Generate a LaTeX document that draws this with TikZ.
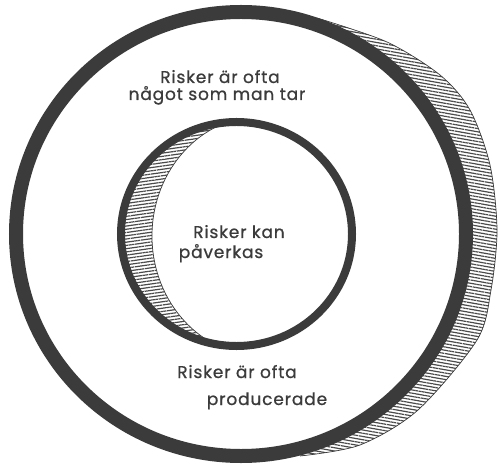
\documentclass[tikz,border=0pt]{standalone}
\usepackage{fontspec}
\setmainfont{Poppins}[LetterSpace=5, FakeBold=0.8]
\usetikzlibrary{patterns.meta}
\definecolor{ink}{HTML}{3B3B3B}
\definecolor{hatch}{HTML}{4A4A4A}

\begin{document}
\begin{tikzpicture}[
    x=1bp, y=-1bp,
    ring/.style={draw=ink, line width=#1},
    shadeband/.style={pattern={Lines[angle=#1, distance=3.2bp, line width=1.2bp]},
                      pattern color=hatch},
    rim/.style={draw=ink, line width=0.7bp},
    note/.style={text=ink, anchor=base, inner sep=0pt,
                 font=\fontsize{17bp}{20bp}\selectfont}
]
\useasboundingbox (0,0) rectangle (499,470);

% outer band: hatched crescent behind the big ring
\coordinate (world) at (241,234);
\fill[shadeband=-10] plot[smooth] coordinates {(317,18) (387,42) (440,75) (470,110)
    (490,165) (497,230) (491,290) (477,340) (418,410) (360,445) (300,456)} -- cycle;
\draw[rim] plot[smooth] coordinates {(317,18) (387,42) (440,75) (470,110)
    (490,165) (497,230) (491,290) (477,340) (418,410) (360,445) (300,456)};
\filldraw[fill=white, ring=14bp] (world) ellipse [x radius=225bp, y radius=222bp];

% inner ring with its crescent on the left
\coordinate (core) at (236.5,234);
\coordinate (hole) at (262,236);
\begin{scope}
\clip (core) ellipse [x radius=115.5bp, y radius=112bp];
\fill[shadeband=8] (110,110) rectangle (360,360);
\filldraw[fill=white, rim] (hole) ellipse [x radius=110bp, y radius=120bp];
\end{scope}
\draw[ring=8bp] (core) ellipse [x radius=115.5bp, y radius=112bp];

% texts
\node[note] (take1) at (220,83) {Risker är ofta};
\node[note] (take2) at (217,100) {något som man tar};
\node[note] (affect1) at (239,238) {Risker kan};
\node[note] (affect2) at (221,258) {påverkas};
\node[note] (made1) at (237,378) {Risker är ofta};
\node[note] (made2) at (267,405) {producerade};

\end{tikzpicture}
\end{document}
